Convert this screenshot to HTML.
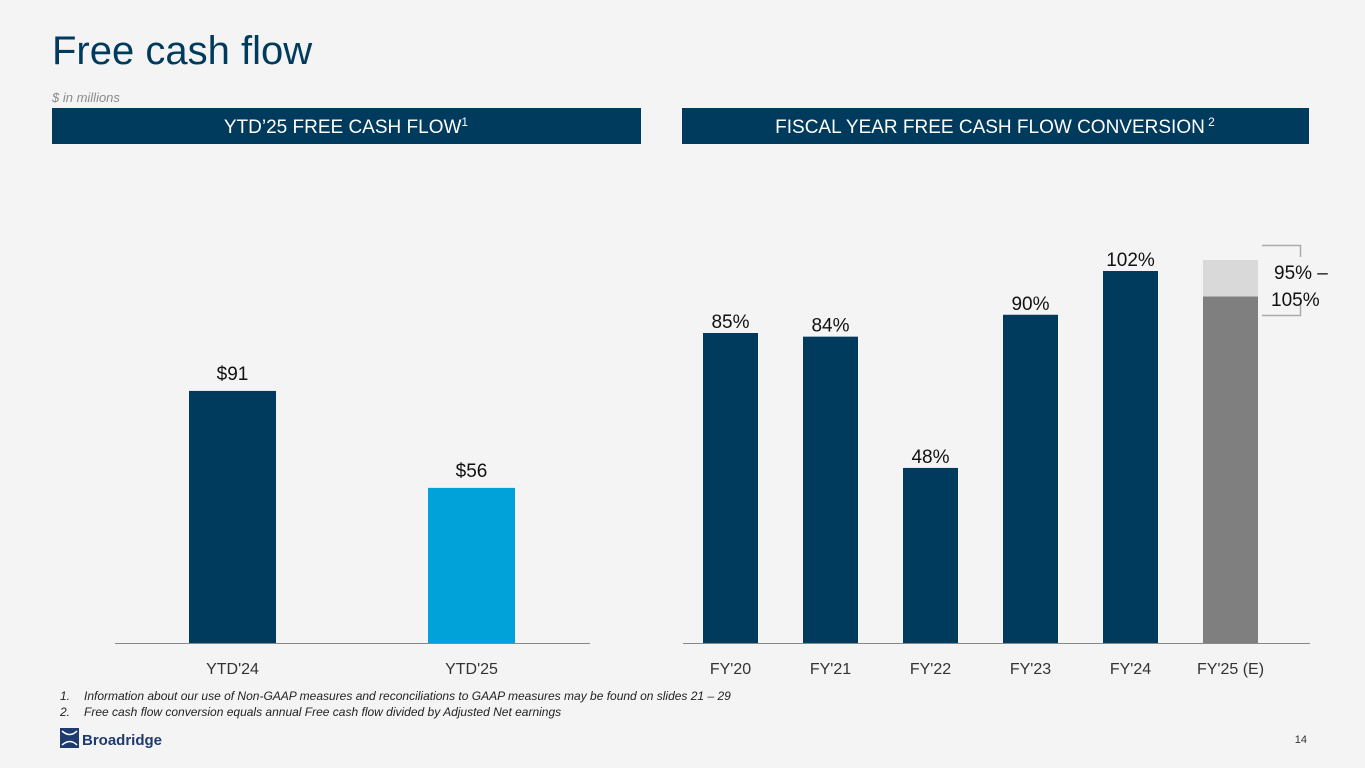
<!DOCTYPE html>
<html><head><meta charset="utf-8"><style>
body{margin:0;width:1365px;height:768px;background:#f4f4f4;font-family:"Liberation Sans",sans-serif;overflow:hidden}
svg{position:absolute;left:0;top:0}
</style></head><body>
<svg id="s" width="1365" height="768">
<text x="52" y="64" font-size="40" fill="#003a5d">Free cash flow</text>
<text x="52" y="102" font-size="13" font-style="italic" fill="#8a8a8a">$ in millions</text>
<rect x="52" y="108" width="589" height="36" fill="#003a5d"/>
<text x="346" y="133" font-size="19" fill="#fff" text-anchor="middle">YTD’25 FREE CASH FLOW<tspan font-size="12" dy="-7">1</tspan></text>
<rect x="682" y="108" width="627" height="36" fill="#003a5d"/>
<text x="995" y="133" font-size="19" fill="#fff" text-anchor="middle">FISCAL YEAR FREE CASH FLOW CONVERSION<tspan font-size="12" dy="-7"> 2</tspan></text>
<line x1="115" y1="643.5" x2="590" y2="643.5" stroke="#888"/>
<line x1="683" y1="643.5" x2="1310" y2="643.5" stroke="#888"/>
<g id="left"></g><g id="right"></g>
<path d="M1262 245.5H1300.5V257M1262 315.5H1300.5V305" fill="none" stroke="#aaa" stroke-width="1.5"/>
<text x="1274" y="279" font-size="19" fill="#111">95% –</text>
<text x="1271" y="306" font-size="19" fill="#111">105%</text>
<g><text x="60" y="700" font-size="12" font-style="italic" fill="#222">1.</text>
<text x="84" y="700" font-size="12" font-style="italic" fill="#222">Information about our use of Non-GAAP measures and reconciliations to GAAP measures may be found on slides 21 – 29</text></g>
<g><text x="60" y="716" font-size="12" font-style="italic" fill="#222">2.</text>
<text x="84" y="716" font-size="12" font-style="italic" fill="#222">Free cash flow conversion equals annual Free cash flow divided by Adjusted Net earnings</text></g>
<g>
<rect x="60" y="728" width="19" height="20" fill="#1f3a6e"/>
<path d="M62 731Q70 738 77 731M62 745Q70 738 77 745" stroke="#fff" stroke-width="1.5" fill="none"/>
<text x="82" y="745" font-size="15" font-weight="bold" fill="#1f3a6e">Broadridge</text></g>
<text x="1307" y="743" font-size="11" fill="#333" text-anchor="end">14</text>
</svg>
<script>
const ytdCats=["YTD'24","YTD'25"];
const ytdVals=[91,56];
const ytdLabels=["$91","$56"];
const fyCats=["FY'20","FY'21","FY'22","FY'23","FY'24","FY'25 (E)"];
const fyVals=[85,84,48,90,102,95];
const fyLabels=["85%","84%","48%","90%","102%",""];
const fyRangeHigh=105;
const NS="http://www.w3.org/2000/svg";
const base=643;
function yL(v){return base-v*2.77;}
function yR(v){return base-v*3.647;}
function mk(tag,a,p){const e=document.createElementNS(NS,tag);for(const k in a)e.setAttribute(k,a[k]);p.appendChild(e);return e;}
const L=document.getElementById('left'),R=document.getElementById('right');
ytdCats.forEach((c,i)=>{
 const x=189+i*239;
 const r=mk('rect',{x:x,y:yL(ytdVals[i]),width:87,height:base-yL(ytdVals[i]),fill:i?'#00a3d9':'#003a5d'},L);
 
 
 const t=mk('text',{x:x+43.5,y:yL(ytdVals[i])-11,'font-size':19,'text-anchor':'middle',fill:'#111'},L);t.textContent=ytdLabels[i];
 
 
 const a=mk('text',{x:x+43.5,y:674,'font-size':16,'text-anchor':'middle',fill:'#333'},L);a.textContent=c;
 
 
});
fyCats.forEach((c,i)=>{
 const x=703+i*100;
 const last=i===fyCats.length-1;
 if(last){
  const h=mk('rect',{x:x,y:yR(fyRangeHigh),width:55,height:base-yR(fyRangeHigh),fill:'#d9d9d9'},R);
  
  
 }
 const r=mk('rect',{x:x,y:yR(fyVals[i]),width:55,height:base-yR(fyVals[i]),fill:last?'#7f7f7f':'#003a5d'},R);
 
 
 if(fyLabels[i]){const t=mk('text',{x:x+27.5,y:yR(fyVals[i])-5,'font-size':19,'text-anchor':'middle',fill:'#111'},R);t.textContent=fyLabels[i];
 
 }
 const a=mk('text',{x:x+27.5,y:674,'font-size':16,'text-anchor':'middle',fill:'#333'},R);a.textContent=c;
 
 
});
</script>
</body></html>
